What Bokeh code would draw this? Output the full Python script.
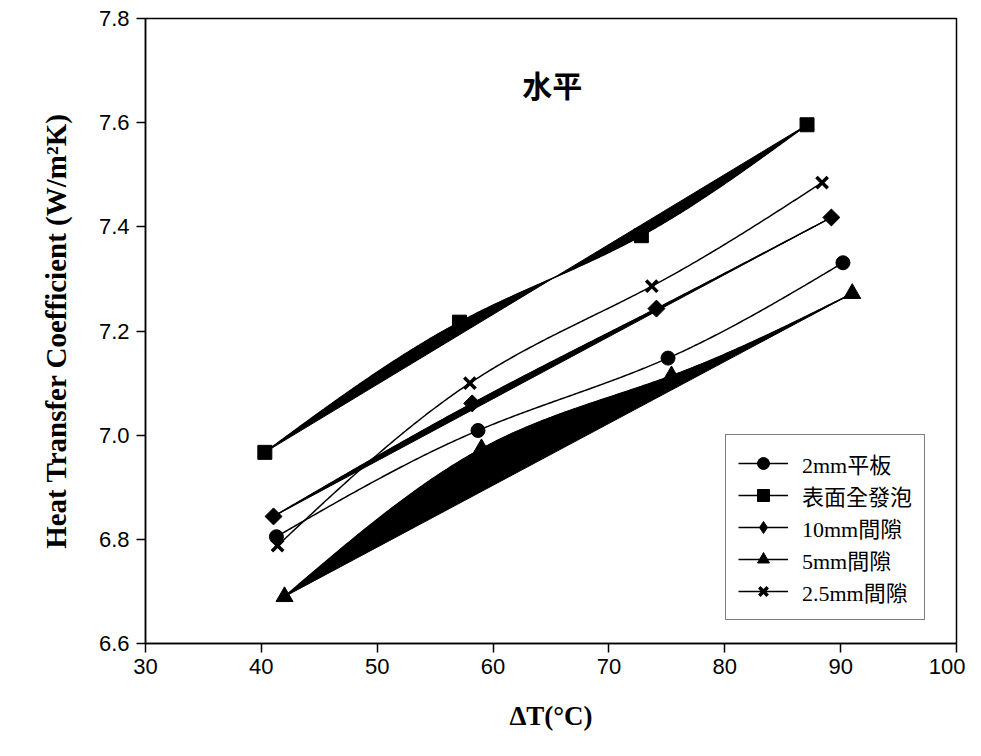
import numpy as np
from bokeh.plotting import figure
from bokeh.models import (Legend, LegendItem, FixedTicker, PrintfTickFormatter,
                          Label, Range1d)
from bokeh.embed import file_html
from bokeh.resources import INLINE

# ---------------- data ----------------
series_names = ["2mm平板", "表面全發泡", "10mm間隙", "5mm間隙", "2.5mm間隙"]

x_2mm = [41.3, 58.7, 75.1, 90.2]
y_2mm = [6.805, 7.009, 7.148, 7.331]

x_foam = [40.3, 57.1, 72.8, 87.1]
y_foam = [6.967, 7.217, 7.383, 7.596]

x_10mm = [41.05, 58.2, 74.1, 89.2]
y_10mm = [6.844, 7.061, 7.243, 7.418]

x_5mm = [42.0, 59.0, 75.4, 91.0]
y_5mm = [6.690, 6.974, 7.114, 7.272]

x_25mm = [41.4, 58.0, 73.7, 88.4]
y_25mm = [6.788, 7.100, 7.286, 7.485]

x_ticks = [30, 40, 50, 60, 70, 80, 90, 100]
y_ticks = [6.6, 6.8, 7.0, 7.2, 7.4, 7.6, 7.8]

title_text = "水平"
x_title = "ΔT(°C)"
y_title = "Heat Transfer Coefficient (W/m²K)"


def natural_spline(xs, ys, n=240):
    x = np.asarray(xs, float)
    y = np.asarray(ys, float)
    k = len(x)
    h = np.diff(x)
    A = np.zeros((k, k))
    b = np.zeros(k)
    A[0, 0] = 1.0
    A[-1, -1] = 1.0
    for i in range(1, k - 1):
        A[i, i - 1] = h[i - 1]
        A[i, i] = 2 * (h[i - 1] + h[i])
        A[i, i + 1] = h[i]
        b[i] = 6 * ((y[i + 1] - y[i]) / h[i] - (y[i] - y[i - 1]) / h[i - 1])
    M = np.linalg.solve(A, b)
    xx = np.linspace(x[0], x[-1], n)
    idx = np.clip(np.searchsorted(x, xx) - 1, 0, k - 2)
    x0 = x[idx]
    x1 = x[idx + 1]
    hh = x1 - x0
    t0 = x1 - xx
    t1 = xx - x0
    yy = (M[idx] * t0 ** 3 / (6 * hh) + M[idx + 1] * t1 ** 3 / (6 * hh)
          + (y[idx] / hh - M[idx] * hh / 6) * t0
          + (y[idx + 1] / hh - M[idx + 1] * hh / 6) * t1)
    return xx, yy


p = figure(width=965, height=740,
           x_range=Range1d(30, 100), y_range=Range1d(6.6, 7.8),
           output_backend="svg", toolbar_location=None,
           min_border_left=145, min_border_right=9,
           min_border_top=18, min_border_bottom=97)

p.xgrid.visible = False
p.ygrid.visible = False
p.outline_line_color = "black"
p.outline_line_width = 1.5
p.background_fill_color = "white"
p.border_fill_color = "white"

for ax in (p.xaxis[0], p.yaxis[0]):
    ax.axis_line_color = "black"
    ax.axis_line_width = 1.5
    ax.major_tick_line_color = "black"
    ax.major_tick_line_width = 1.5
    ax.major_tick_out = 9
    ax.major_tick_in = 0
    ax.minor_tick_line_color = None
    ax.major_label_text_font = "Liberation Sans"
    ax.major_label_text_font_size = "22px"
    ax.major_label_text_color = "black"
    ax.axis_label_text_font = "Liberation Serif"
    ax.axis_label_text_font_style = "bold"
    ax.axis_label_text_color = "black"

p.xaxis.axis_label_text_font_size = "27px"
p.yaxis.axis_label_text_font_size = "29px"
p.xaxis.ticker = FixedTicker(ticks=x_ticks)
p.yaxis.ticker = FixedTicker(ticks=y_ticks)
p.xaxis.formatter = PrintfTickFormatter(format="%d")
p.yaxis.formatter = PrintfTickFormatter(format="%.1f")
p.xaxis.major_label_standoff = 6
p.yaxis.major_label_standoff = 7
p.xaxis.axis_label = x_title
p.yaxis.axis_label = y_title
p.xaxis.axis_label_standoff = 24
p.yaxis.axis_label_standoff = 24

series = [
    (x_2mm, y_2mm, "circle", 14, 0, False),
    (x_foam, y_foam, "square", 14, 0, True),
    (x_10mm, y_10mm, "square", 12, np.pi / 4, True),
    (x_5mm, y_5mm, "triangle", 17, 0, True),
    (x_25mm, y_25mm, "x", 16, 0, False),
]
legend_markers = ["circle", "square", "diamond", "triangle", "x"]

# filled artefact areas (curve closed back along the chord)
for xs, ys, mk, sz, ang, filled in series:
    if filled:
        cx, cy = natural_spline(xs, ys)
        p.patch(cx, cy, fill_color="black", line_color="black", line_width=1)

items = []
for name, lmk, (xs, ys, mk, sz, ang, filled) in zip(series_names, legend_markers, series):
    cx, cy = natural_spline(xs, ys)
    ln = p.line(cx, cy, line_color="black", line_width=1.5)
    if mk == "x":
        sc = p.scatter(xs, ys, marker=mk, size=sz, line_color="black",
                       line_width=3.5)
    else:
        sc = p.scatter(xs, ys, marker=mk, size=sz, angle=ang,
                       fill_color="black", line_color="black", line_width=1)
    if lmk != mk:
        # legend-only glyph (nothing drawn in the plot) for the rotated-square marker
        lg = p.scatter(x=[np.nan], y=[np.nan], marker=lmk, size=sz,
                       fill_color="black", line_color="black", line_width=1)
        items.append(LegendItem(label=name, renderers=[ln, lg]))
    else:
        items.append(LegendItem(label=name, renderers=[ln, sc]))

legend = Legend(items=items, location=(580, 23))
legend.glyph_width = 50
legend.glyph_height = 30
legend.label_height = 26
legend.spacing = 0
legend.padding = 12
legend.margin = 0
legend.label_standoff = 14
legend.border_line_color = "black"
legend.border_line_width = 1.5
legend.background_fill_color = "white"
legend.background_fill_alpha = 1.0
legend.label_text_font = "Liberation Serif, Noto Sans CJK TC"
legend.label_text_font_size = "22px"
legend.label_text_line_height = 0.9
legend.label_text_color = "black"
p.add_layout(legend)

p.add_layout(Label(x=65.1, y=7.675, text=title_text, text_align="center",
                   text_baseline="middle", text_font_size="30px",
                   text_font="Noto Sans CJK TC",
                   text_font_style="bold", text_color="black"))

open("out.html", "w").write(file_html(p, INLINE))
